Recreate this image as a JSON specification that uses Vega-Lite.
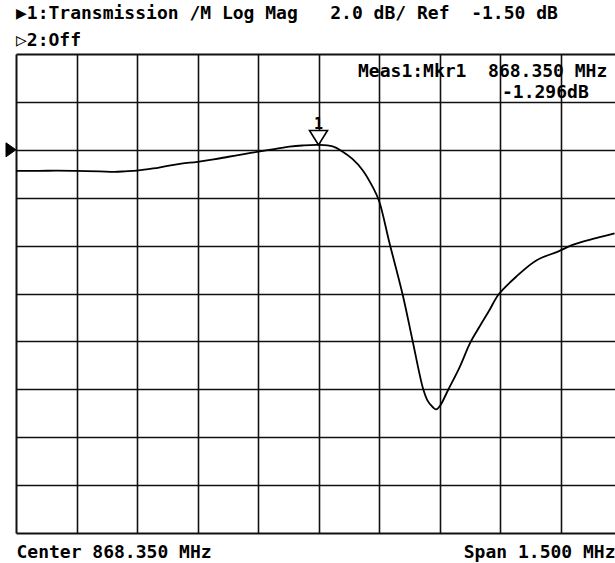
{
  "$schema": "https://vega.github.io/schema/vega-lite/v6.json",
  "width": 599,
  "height": 479,
  "autosize": {"type": "none"},
  "padding": {"left": 16, "top": 54, "right": 0, "bottom": 30},
  "background": "white",
  "config": {
    "view": {"stroke": null},
    "font": "DejaVu Sans Mono",
    "axis": {
      "labels": false,
      "ticks": false,
      "domainColor": "#111111",
      "domainWidth": 2,
      "gridColor": "#111111",
      "gridWidth": 1.6,
      "gridOpacity": 1,
      "titleFont": "DejaVu Sans Mono",
      "titleFontSize": 18,
      "titleFontWeight": "bold",
      "titleColor": "black"
    }
  },
  "title": {
    "text": ["▶1:Transmission /M Log Mag\u00a0\u00a0\u00a02.0 dB/ Ref\u00a0\u00a0-1.50 dB", "▷2:Off"],
    "anchor": "start",
    "frame": "group",
    "font": "DejaVu Sans Mono",
    "fontSize": 18,
    "fontWeight": "bold",
    "color": "black",
    "lineHeight": 27,
    "baseline": "bottom",
    "offset": -14
  },
  "datasets": {
    "trace": [
      {"f": 867.600, "db": -2.38},
      {"f": 867.658, "db": -2.38},
      {"f": 867.700, "db": -2.37},
      {"f": 867.750, "db": -2.38},
      {"f": 867.807, "db": -2.40},
      {"f": 867.844, "db": -2.42},
      {"f": 867.870, "db": -2.40},
      {"f": 867.900, "db": -2.37},
      {"f": 867.940, "db": -2.28},
      {"f": 867.976, "db": -2.17},
      {"f": 868.010, "db": -2.08},
      {"f": 868.050, "db": -2.00},
      {"f": 868.090, "db": -1.90},
      {"f": 868.127, "db": -1.79},
      {"f": 868.165, "db": -1.68},
      {"f": 868.201, "db": -1.58},
      {"f": 868.240, "db": -1.47},
      {"f": 868.278, "db": -1.37},
      {"f": 868.310, "db": -1.32},
      {"f": 868.350, "db": -1.296},
      {"f": 868.385, "db": -1.36},
      {"f": 868.409, "db": -1.57},
      {"f": 868.434, "db": -1.88},
      {"f": 868.459, "db": -2.34},
      {"f": 868.484, "db": -3.04},
      {"f": 868.500, "db": -3.63},
      {"f": 868.526, "db": -5.39},
      {"f": 868.559, "db": -7.57},
      {"f": 868.583, "db": -9.45},
      {"f": 868.609, "db": -11.46},
      {"f": 868.620, "db": -11.96},
      {"f": 868.633, "db": -12.24},
      {"f": 868.642, "db": -12.34},
      {"f": 868.652, "db": -12.17},
      {"f": 868.671, "db": -11.54},
      {"f": 868.700, "db": -10.57},
      {"f": 868.726, "db": -9.56},
      {"f": 868.749, "db": -8.89},
      {"f": 868.774, "db": -8.19},
      {"f": 868.796, "db": -7.55},
      {"f": 868.840, "db": -6.80},
      {"f": 868.890, "db": -6.12},
      {"f": 868.945, "db": -5.74},
      {"f": 868.980, "db": -5.47},
      {"f": 869.038, "db": -5.19},
      {"f": 869.084, "db": -4.99}
    ],
    "marker": [{"label": "1", "f": 868.35, "db": -1.296}],
    "ref": [{"f": 867.6, "db": -1.5}],
    "readout1": [{"text": "Meas1:Mkr1\u00a0\u00a0868.350 MHz"}],
    "readout2": [{"text": "-1.296dB"}]
  },
  "layer": [
    {
      "data": {"name": "trace"},
      "mark": {"type": "line", "color": "black", "strokeWidth": 1.8, "interpolate": "catmull-rom", "clip": true},
      "encoding": {
        "x": {
          "field": "f", "type": "quantitative",
          "scale": {"domain": [867.6, 869.0851], "nice": false, "zero": false},
          "axis": {
            "orient": "bottom", "grid": true, "domain": true,
            "values": [867.75, 867.9, 868.05, 868.2, 868.35, 868.5, 868.65, 868.8, 868.95],
            "title": "Center 868.350 MHz", "titleAnchor": "start", "titleAlign": "left",
            "titleBaseline": "alphabetic", "titlePadding": 24
          }
        },
        "y": {
          "field": "db", "type": "quantitative",
          "scale": {"domain": [-17.5, 2.5], "nice": false, "zero": false},
          "axis": {
            "orient": "left", "grid": true, "domain": true,
            "values": [-15.5, -13.5, -11.5, -9.5, -7.5, -5.5, -3.5, -1.5, 0.5],
            "title": null
          }
        }
      }
    },
    {
      "data": {"name": "ref"},
      "mark": {"type": "point", "shape": "M-2,-1.4 L0,0 L-2,1.4 Z", "filled": true, "fill": "black", "stroke": "black", "strokeWidth": 1, "opacity": 1, "size": 100},
      "encoding": {
        "x": {"field": "f", "type": "quantitative", "axis": {"orient": "top", "grid": false, "domain": true, "title": null}},
        "y": {"field": "db", "type": "quantitative", "axis": null}
      }
    },
    {
      "data": {"name": "marker"},
      "mark": {"type": "point", "shape": "M-1,-1.6 L1,-1.6 L0,0 Z", "fill": "white", "stroke": "black", "strokeWidth": 1.6, "opacity": 1, "fillOpacity": 1, "size": 324},
      "encoding": {
        "x": {"field": "f", "type": "quantitative", "axis": {
          "orient": "bottom", "grid": false, "domain": false,
          "title": "Span 1.500 MHz", "titleAnchor": "end", "titleAlign": "right",
          "titleBaseline": "alphabetic", "titlePadding": 24
        }},
        "y": {"field": "db", "type": "quantitative", "axis": null}
      }
    },
    {
      "data": {"name": "marker"},
      "mark": {"type": "text", "font": "DejaVu Sans Mono", "fontSize": 15, "fontWeight": "bold", "color": "black", "align": "center", "baseline": "alphabetic", "dy": -16},
      "encoding": {
        "x": {"field": "f", "type": "quantitative", "axis": null},
        "y": {"field": "db", "type": "quantitative", "axis": null},
        "text": {"field": "label"}
      }
    },
    {
      "data": {"name": "readout1"},
      "mark": {"type": "text", "font": "DejaVu Sans Mono", "fontSize": 18, "fontWeight": "bold", "color": "black", "align": "left", "baseline": "alphabetic"},
      "encoding": {
        "x": {"datum": 868.448, "type": "quantitative", "axis": null},
        "y": {"datum": 1.552, "type": "quantitative", "axis": null},
        "text": {"field": "text"}
      }
    },
    {
      "data": {"name": "readout2"},
      "mark": {"type": "text", "font": "DejaVu Sans Mono", "fontSize": 18, "fontWeight": "bold", "color": "black", "align": "left", "baseline": "alphabetic"},
      "encoding": {
        "x": {"datum": 868.805, "type": "quantitative", "axis": null},
        "y": {"datum": 0.65, "type": "quantitative", "axis": null},
        "text": {"field": "text"}
      }
    }
  ],
  "resolve": {"axis": {"x": "independent", "y": "independent"}}
}
